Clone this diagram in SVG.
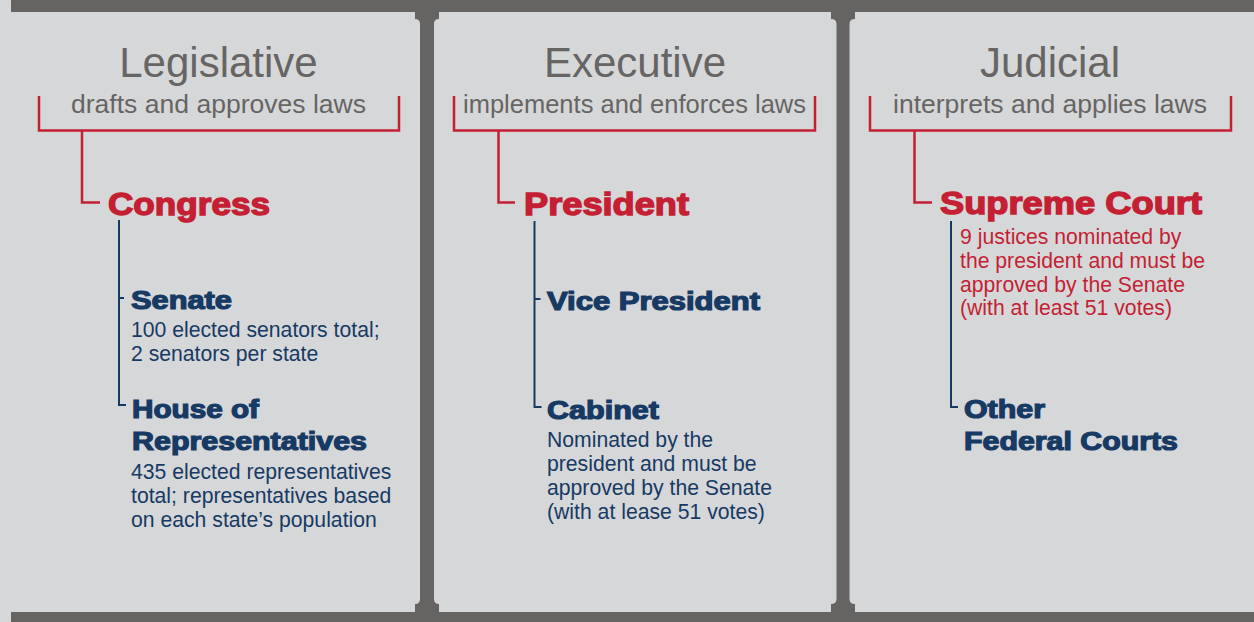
<svg xmlns="http://www.w3.org/2000/svg" width="1254" height="622" viewBox="0 0 1254 622">
<style>
.title{font-family:"Liberation Sans",Arial,sans-serif;font-size:42px;fill:#666563;text-anchor:middle}
.sub{font-family:"Liberation Sans",Arial,sans-serif;font-size:26px;fill:#666563;text-anchor:middle}
.red{font-family:"Liberation Sans",Arial,sans-serif;font-weight:bold;font-size:32px;fill:#c41f33;stroke:#c41f33;stroke-width:1.4px}
.navy{font-family:"Liberation Sans",Arial,sans-serif;font-weight:bold;font-size:25px;fill:#173a64;stroke:#173a64;stroke-width:1.2px}
.desc{font-family:"Liberation Sans",Arial,sans-serif;font-size:21.2px;fill:#173a64}
.rdesc{font-family:"Liberation Sans",Arial,sans-serif;font-size:21.2px;fill:#c41f33}
.rl{fill:none;stroke:#c41f33;stroke-width:2.5}
.nl{fill:none;stroke:#173a64;stroke-width:2}
.frame{fill:#656462}
</style>
<rect width="1254" height="622" fill="#d6d7d9"/>
<g id="frame">
<rect class="frame" x="11" y="0" width="1243" height="12"/>
<rect class="frame" x="11" y="612" width="1243" height="10"/>
<path class="frame" d="M415,12 H439 V19 Q434,19 434,24 V599 Q434,604 439,604 V612 H415 V604 Q420,604 420,599 V24 Q420,19 415,19 Z"/>
<path class="frame" d="M831,12 H855 V19 Q849.5,19 849.5,24 V599 Q849.5,604 855,604 V612 H831 V604 Q836.5,604 836.5,599 V24 Q836.5,19 831,19 Z"/>
</g>
<g id="connectors">
<path class="rl" d="M39,96 V130.5 H399 V96"/>
<path class="rl" d="M82,130.5 V202.5 H100"/>
<path class="rl" d="M454,96 V130.5 H815 V96"/>
<path class="rl" d="M498.5,130.5 V202.5 H515"/>
<path class="rl" d="M870,96 V130.5 H1231 V96"/>
<path class="rl" d="M914.5,130.5 V202.5 H932"/>
<path class="nl" d="M119,220 V405 H126"/>
<path class="nl" d="M119,298 H124"/>
<path class="nl" d="M534.5,221 V407 H541.5"/>
<path class="nl" d="M534.5,299 H540.5"/>
<path class="nl" d="M951,221 V407 H958"/>
</g>
<g id="legislative">
<text class="title" x="218.5" y="77">Legislative</text>
<text class="sub" x="218.5" y="113" textLength="295" lengthAdjust="spacingAndGlyphs">drafts and approves laws</text>
</g>
<g id="congress">
<text class="red" x="108" y="215" textLength="162" lengthAdjust="spacingAndGlyphs">Congress</text>
</g>
<g id="senate">
<text class="navy" x="131" y="308.5" textLength="101" lengthAdjust="spacingAndGlyphs">Senate</text>
<text class="desc" x="131" y="337">100 elected senators total;</text>
<text class="desc" x="131" y="361">2 senators per state</text>
</g>
<g id="house">
<text class="navy" x="132" y="417.5" textLength="127" lengthAdjust="spacingAndGlyphs">House of</text>
<text class="navy" x="132" y="450" textLength="235" lengthAdjust="spacingAndGlyphs">Representatives</text>
<text class="desc" x="131" y="479">435 elected representatives</text>
<text class="desc" x="131" y="503">total; representatives based</text>
<text class="desc" x="131" y="527">on each state’s population</text>
</g>
<g id="executive">
<text class="title" x="635" y="77">Executive</text>
<text class="sub" x="634.5" y="113" textLength="343" lengthAdjust="spacingAndGlyphs">implements and enforces laws</text>
</g>
<g id="president">
<text class="red" x="524" y="215" textLength="165" lengthAdjust="spacingAndGlyphs">President</text>
</g>
<g id="vice-president">
<text class="navy" x="547" y="309.5" textLength="213" lengthAdjust="spacingAndGlyphs">Vice President</text>
</g>
<g id="cabinet">
<text class="navy" x="547" y="418.5" textLength="112" lengthAdjust="spacingAndGlyphs">Cabinet</text>
<text class="desc" x="547" y="447">Nominated by the</text>
<text class="desc" x="547" y="471">president and must be</text>
<text class="desc" x="547" y="495">approved by the Senate</text>
<text class="desc" x="547" y="519">(with at lease 51 votes)</text>
</g>
<g id="judicial">
<text class="title" x="1050" y="77">Judicial</text>
<text class="sub" x="1050" y="113" textLength="314" lengthAdjust="spacingAndGlyphs">interprets and applies laws</text>
</g>
<g id="supreme-court">
<text class="red" x="940" y="214" textLength="262" lengthAdjust="spacingAndGlyphs">Supreme Court</text>
<text class="rdesc" x="960" y="244">9 justices nominated by</text>
<text class="rdesc" x="960" y="268">the president and must be</text>
<text class="rdesc" x="960" y="291.5">approved by the Senate</text>
<text class="rdesc" x="960" y="315">(with at least 51 votes)</text>
</g>
<g id="other-courts">
<text class="navy" x="964" y="417.5" textLength="81" lengthAdjust="spacingAndGlyphs">Other</text>
<text class="navy" x="964" y="450" textLength="214" lengthAdjust="spacingAndGlyphs">Federal Courts</text>
</g>
</svg>
